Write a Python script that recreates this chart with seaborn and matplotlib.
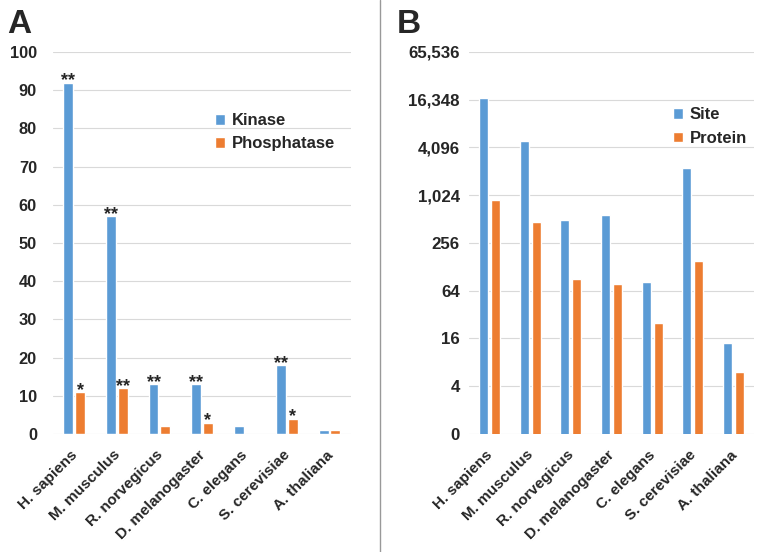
import pandas as pd
import matplotlib.pyplot as plt
import matplotlib.transforms as mtransforms
import seaborn as sns
from matplotlib.lines import Line2D
from matplotlib.ticker import FixedLocator, FixedFormatter

# Data
species = ['H. sapiens', 'M. musculus', 'R. norvegicus', 'D. melanogaster',
           'C. elegans', 'S. cerevisiae', 'A. thaliana']

# Panel A
kinase = [92, 57, 13, 13, 2, 18, 1]
phosphatase = [11, 12, 2, 3, 0, 4, 1]
kinase_stars = ['**', '**', '**', '**', '', '**', '']
phosphatase_stars = ['*', '**', '', '*', '', '*', '']

# Panel B (log2 axis)
site = [17000, 5000, 495, 580, 83, 2270, 14]
protein = [900, 470, 90, 78, 25, 152, 6]
b_ticks = [1, 4, 16, 64, 256, 1024, 4096, 16384, 65536]
b_ticklabels = ['0', '4', '16', '64', '256', '1,024', '4,096', '16,348', '65,536']

BLUE = '#5B9BD5'
ORANGE = '#ED7D31'

sns.set_style('white')
plt.rcParams['font.family'] = ['Liberation Sans', 'DejaVu Sans']
plt.rcParams['font.weight'] = 'bold'

df_a = pd.DataFrame({
    'species': species * 2,
    'value': kinase + phosphatase,
    'type': ['Kinase'] * len(species) + ['Phosphatase'] * len(species),
})
df_b = pd.DataFrame({
    'species': species * 2,
    'value': site + protein,
    'type': ['Site'] * len(species) + ['Protein'] * len(species),
})

fig = plt.figure(figsize=(7.6, 5.52), dpi=100)
ax_a = fig.add_axes([0.0697, 0.2138, 0.392, 0.692])
ax_b = fig.add_axes([0.6171, 0.2138, 0.375, 0.692])
shift = mtransforms.ScaledTranslation(-4 / 100, 0, fig.dpi_scale_trans)


def style_axes(ax, ypad, ysize):
    for s in ax.spines.values():
        s.set_visible(False)
    ax.grid(axis='y', color='#D9D9D9', linewidth=0.8)
    ax.set_axisbelow(True)
    ax.tick_params(axis='both', length=0)
    ax.tick_params(axis='y', pad=ypad, labelsize=ysize)
    ax.tick_params(axis='x', pad=10, labelsize=11)
    ax.set_xlabel('')
    ax.set_ylabel('')
    ax.set_xlim(-0.5, len(species) - 0.5)
    for lab in ax.get_xticklabels():
        lab.set_rotation(45)
        lab.set_ha('right')
        lab.set_rotation_mode('anchor')
        lab.set_fontweight('bold')
        lab.set_transform(lab.get_transform() + shift)
    plt.setp(ax.get_yticklabels(), fontweight='bold')


def add_legend(ax, anchor):
    h, l = ax.get_legend_handles_labels()
    ax.legend(h, l, loc='upper left', bbox_to_anchor=anchor, frameon=False,
              borderaxespad=0, borderpad=0, handlelength=0.6, handleheight=0.6,
              handletextpad=0.4, labelspacing=0.5,
              prop={'size': 12, 'weight': 'bold'})


# === Panel A ===
sns.barplot(data=df_a, x='species', y='value', hue='type', saturation=1,
            palette=[BLUE, ORANGE], width=0.55, gap=0.15, ax=ax_a)
ax_a.set_ylim(0, 100)
ax_a.set_yticks(range(0, 101, 10))
style_axes(ax_a, 11.5, 11.8)
for container, stars in zip(ax_a.containers, [kinase_stars, phosphatase_stars]):
    for bar, st in zip(container, stars):
        if st:
            ax_a.annotate(st, (bar.get_x() + bar.get_width() / 2, bar.get_height()),
                          xytext=(0, -2), textcoords='offset points',
                          ha='center', va='baseline', fontsize=13, fontweight='bold')
add_legend(ax_a, (0.545, 0.84))

# === Panel B ===
sns.barplot(data=df_b, x='species', y='value', hue='type', saturation=1,
            palette=[BLUE, ORANGE], width=0.59, gap=0.25, ax=ax_b)
ax_b.set_yscale('log', base=2)
ax_b.set_ylim(1, 65536)
ax_b.yaxis.set_major_locator(FixedLocator(b_ticks))
ax_b.yaxis.set_major_formatter(FixedFormatter(b_ticklabels))
ax_b.yaxis.set_minor_locator(FixedLocator([]))
style_axes(ax_b, 6.5, 12.2)
add_legend(ax_b, (0.715, 0.855))

# Panel letters and divider
fig.text(7 / 760, 1 - 33 / 552, 'A', fontsize=24, fontweight='heavy', va='baseline')
fig.text(397 / 760, 1 - 33 / 552, 'B', fontsize=24, fontweight='heavy', va='baseline')
fig.add_artist(Line2D([0.5, 0.5], [0, 1], color='#999999', linewidth=1,
                      transform=fig.transFigure))

fig.savefig('out.png', dpi=100)
